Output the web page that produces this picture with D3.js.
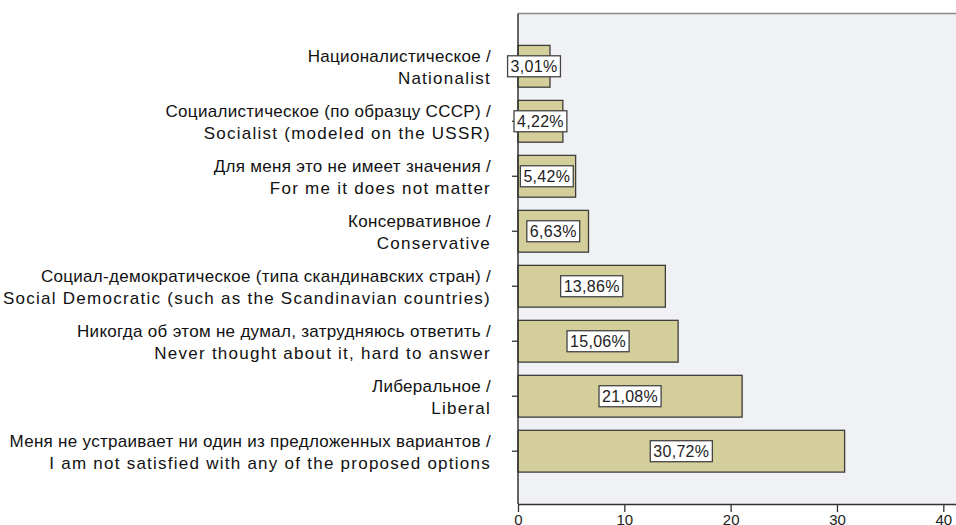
<!DOCTYPE html>
<html>
<head>
<meta charset="utf-8">
<script src="https://cdn.jsdelivr.net/npm/d3@7"></script>
<style>
  html, body { margin: 0; padding: 0; background: #ffffff; }
  svg { display: block; }
</style>
</head>
<body>
<svg id="chart" width="956" height="525"></svg>
<script>
const categoriesRu = [
  "Националистическое /",
  "Социалистическое (по образцу СССР) /",
  "Для меня это не имеет значения /",
  "Консервативное /",
  "Социал-демократическое (типа скандинавских стран) /",
  "Никогда об этом не думал, затрудняюсь ответить /",
  "Либеральное /",
  "Меня не устраивает ни один из предложенных вариантов /"
];
const categoriesEn = [
  "Nationalist",
  "Socialist (modeled on the USSR)",
  "For me it does not matter",
  "Conservative",
  "Social Democratic (such as the Scandinavian countries)",
  "Never thought about it, hard to answer",
  "Liberal",
  "I am not satisfied with any of the proposed options"
];
const values = [3.01, 4.22, 5.42, 6.63, 13.86, 15.06, 21.08, 30.72];
const xTicks = [0, 10, 20, 30, 40];

const svg = d3.select("#chart");
const W = 956, H = 525;
const plotLeft = 518, plotTop = 13.5, plotBottom = 504;

const x = d3.scaleLinear().domain([0, 40]).range([plotLeft, 943.3]);
const y = d3.scaleBand().domain(d3.range(values.length)).range([plotTop, plotBottom])
  .paddingInner(0.24).paddingOuter(0.58);

// plot background
svg.append("rect").attr("x", plotLeft).attr("y", plotTop).attr("width", W - plotLeft + 2).attr("height", plotBottom - plotTop)
  .attr("fill", "#f0f1f4");
svg.append("line").attr("x1", plotLeft).attr("x2", W).attr("y1", plotTop).attr("y2", plotTop)
  .attr("stroke", "#8a8a8a").attr("stroke-width", 1.5);

// bars
svg.append("g").selectAll("rect").data(values).join("rect")
  .attr("x", x(0))
  .attr("y", (d, i) => y(i))
  .attr("width", d => x(d) - x(0))
  .attr("height", y.bandwidth())
  .attr("fill", "#d3ce9a")
  .attr("stroke", "#3d3d3d")
  .attr("stroke-width", 1.3);

// y axis
const yAxis = d3.axisLeft(y).tickSize(6).tickFormat("");
const gy = svg.append("g").attr("transform", `translate(${plotLeft},0)`).call(yAxis);
gy.select(".domain").remove();
gy.selectAll(".tick line").attr("stroke", "#333").attr("stroke-width", 1.3);
svg.append("line").attr("x1", plotLeft).attr("x2", plotLeft).attr("y1", plotTop).attr("y2", plotBottom)
  .attr("stroke", "#333").attr("stroke-width", 1.5);

// x axis
const xAxis = d3.axisBottom(x).tickValues(xTicks).tickSize(8).tickSizeOuter(0).tickPadding(2);
const gx = svg.append("g").attr("transform", `translate(0,${plotBottom})`).call(xAxis);
gx.select(".domain").attr("stroke", "#333").attr("stroke-width", 1.5)
  .attr("d", `M${plotLeft},0.5H${W}`);
gx.selectAll(".tick line").attr("stroke", "#333").attr("stroke-width", 1.3);
gx.selectAll(".tick text").attr("font-family", "Liberation Sans, Arial, sans-serif")
  .attr("font-size", 15).attr("fill", "#222");

// category labels
const lab = svg.append("g").attr("font-family", "Liberation Sans, Arial, sans-serif")
  .attr("font-size", 17).attr("fill", "#111").attr("text-anchor", "end");
values.forEach((v, i) => {
  const cy = y(i) + y.bandwidth() / 2;
  const g = lab.append("g").attr("transform", `translate(491,0)`);
  g.append("text").attr("x", 0).attr("y", cy - 4).attr("letter-spacing", "0.3px").text(categoriesRu[i]);
  g.append("text").attr("x", 0).attr("y", cy + 17.7).attr("letter-spacing", "1.25px").text(categoriesEn[i]);
});

// value labels
const vl = svg.append("g");
values.forEach((v, i) => {
  const cy = y(i) + y.bandwidth() / 2;
  const cx = x(v / 2);
  const t = vl.append("text").attr("x", cx).attr("y", cy + 5.8)
    .attr("text-anchor", "middle")
    .attr("font-family", "Liberation Sans, Arial, sans-serif")
    .attr("font-size", 16).attr("letter-spacing", "0.3px").attr("fill", "#222")
    .text(d3.format(".2f")(v).replace(".", ",") + "%");
  const bb = t.node().getBBox();
  vl.insert("rect", "text").attr("x", bb.x - 3).attr("y", cy - 10.5)
    .attr("width", bb.width + 6).attr("height", 21)
    .attr("fill", "#ffffff").attr("stroke", "#444").attr("stroke-width", 1.3);
});
</script>
</body>
</html>
